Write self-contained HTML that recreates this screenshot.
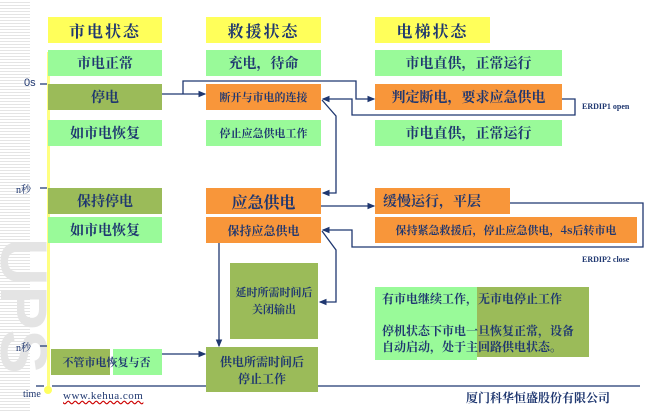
<!DOCTYPE html>
<html><head><meta charset="utf-8"><style>
body{margin:0;width:655px;height:413px;overflow:hidden;background:#fff;position:relative;font-family:"Liberation Serif","Noto Serif CJK SC",serif}
.s{position:absolute;left:0;top:0;width:30px;height:413px;background:repeating-linear-gradient(#fff 0 2px,#e4e4e4 2px 3px)}
.b{position:absolute;display:flex;align-items:center;justify-content:center;color:#1f3770;font-weight:bold;font-size:13px;text-align:center;line-height:17px;font-family:"Noto Serif CJK SC","WenQuanYi Zen Hei",serif}
.y{background:#ffff5a;font-size:16px;letter-spacing:2px}
.g{background:#99fa99}
.o{background:#9bbb59}
.r{background:#f8963a}
.t{position:absolute;color:#1f3770;font-size:10px;font-family:"Liberation Serif","Noto Serif CJK SC",serif}
</style></head><body>
<div class="s"></div>
<div style="position:absolute;left:-8px;top:238px;width:62px;height:170px;color:#e4e4e4;font:bold 66px 'Liberation Sans',sans-serif;writing-mode:vertical-rl;line-height:60px">UPS</div>
<div style="position:absolute;left:47px;top:52px;width:3px;height:338px;background:#ffff80"></div>
<div style="position:absolute;left:44px;top:386px;width:8px;height:8px;border-radius:50%;background:#ffff60"></div>

<div class="b y" style="left:48px;top:17px;width:114px;height:26px">市电状态</div>
<div class="b y" style="left:206px;top:17px;width:115px;height:26px">救援状态</div>
<div class="b y" style="left:375px;top:17px;width:115px;height:26px">电梯状态</div>

<div class="b g" style="left:48px;top:50px;width:114px;height:26px;font-size:14px">市电正常</div>
<div class="b o" style="left:48px;top:84px;width:114px;height:26px;font-size:14px">停电</div>
<div class="b g" style="left:48px;top:120px;width:114px;height:26px;font-size:14px">如市电恢复</div>
<div class="b o" style="left:48px;top:188px;width:114px;height:26px;font-size:14px">保持停电</div>
<div class="b g" style="left:48px;top:217px;width:114px;height:26px;font-size:14px">如市电恢复</div>
<div style="position:absolute;left:51px;top:349px;width:59px;height:26px;background:#9bbb59"></div>
<div style="position:absolute;left:113px;top:349px;width:49px;height:26px;background:#99fa99"></div>
<div class="b" style="left:51px;top:349px;width:111px;height:26px;font-size:11px;white-space:nowrap">不管市电恢复与否</div>

<div class="b g" style="left:206px;top:50px;width:115px;height:26px;font-size:14px">充电，待命</div>
<div class="b r" style="left:206px;top:84px;width:115px;height:26px;font-size:11px">断开与市电的连接</div>
<div class="b g" style="left:206px;top:120px;width:115px;height:26px;font-size:11px">停止应急供电工作</div>
<div class="b r" style="left:206px;top:188px;width:115px;height:26px;font-size:16px">应急供电</div>
<div class="b r" style="left:206px;top:217px;width:115px;height:26px;font-size:12px">保持应急供电</div>
<div class="b o" style="left:230px;top:263px;width:88px;height:76px;font-size:11px">延时所需时间后<br>关闭输出</div>
<div class="b o" style="left:206px;top:347px;width:112px;height:45px;font-size:12px">供电所需时间后<br>停止工作</div>

<div class="b g" style="left:375px;top:50px;width:187px;height:26px;font-size:14px">市电直供，正常运行</div>
<div class="b r" style="left:375px;top:84px;width:187px;height:26px;font-size:14px">判定断电，要求应急供电</div>
<div class="b g" style="left:375px;top:120px;width:187px;height:26px;font-size:14px">市电直供，正常运行</div>
<div class="b r" style="left:375px;top:188px;width:135px;height:26px;font-size:14px;justify-content:flex-start;padding-left:8px;box-sizing:border-box">缓慢运行，平层</div>
<div class="b r" style="left:375px;top:217px;width:262px;height:26px;font-size:11px">保持紧急救援后，停止应急供电，4s后转市电</div>

<div style="position:absolute;left:375px;top:287px;width:102px;height:73px;background:#99fa99"></div>
<div style="position:absolute;left:477px;top:287px;width:112px;height:70px;background:#9bbb59"></div>
<div class="b" style="left:382px;top:291px;width:196px;height:66px;display:block;text-align:left;font-size:12px;line-height:16px">有市电继续工作，无市电停止工作<br><br>停机状态下市电一旦恢复正常，设备自动启动，处于主回路供电状态。</div>

<div class="t" style="left:582px;top:102px;font-size:8px;font-weight:bold">ERDIP1 open</div>
<div class="t" style="left:582px;top:255px;font-size:8px;font-weight:bold">ERDIP2 close</div>
<div class="t" style="left:24px;top:77px;font-family:'Liberation Sans',sans-serif;font-size:11px">0s</div>
<div class="t" style="left:16px;top:181px">n秒</div>
<div class="t" style="left:16px;top:339px">n秒</div>
<div class="t" style="left:23px;top:389px;font-size:10px">time</div>
<div class="t" style="left:63px;top:390px;font-size:11px;text-decoration:underline wavy #c00;letter-spacing:0.5px">www.kehua.com</div>
<div class="b" style="left:466px;top:389px;font-size:12px">厦门科华恒盛股份有限公司</div>

<svg width="655" height="413" style="position:absolute;left:0;top:0" fill="none" stroke="#1f3770" stroke-width="1.3">
<defs><marker id="a" markerWidth="6" markerHeight="6" refX="5" refY="3" orient="auto"><path d="M0,0.5L6,3L0,5.5z" fill="#1f3770" stroke="none"/></marker></defs>
<path d="M40 84H47M40 188H47M40 346H47M36 386H44"/>
<path d="M162 94H205" marker-end="url(#a)"/>
<path d="M183 94V81H356V99H374" marker-end="url(#a)"/>
<path d="M562 99H575V115H352V99H323" marker-end="url(#a)"/>
<path d="M322 100L336 116V193H323" marker-end="url(#a)"/>
<path d="M321 206H374" marker-end="url(#a)"/>
<path d="M510 203H643V247H352V230H323" marker-end="url(#a)"/>
<path d="M322 231L336 250V302H320" marker-end="url(#a)"/>
<path d="M219 243V346" marker-end="url(#a)"/>
<path d="M162 354H205" marker-end="url(#a)"/>
<path d="M52 386H206M318 386H640"/>
</svg>
</body></html>
